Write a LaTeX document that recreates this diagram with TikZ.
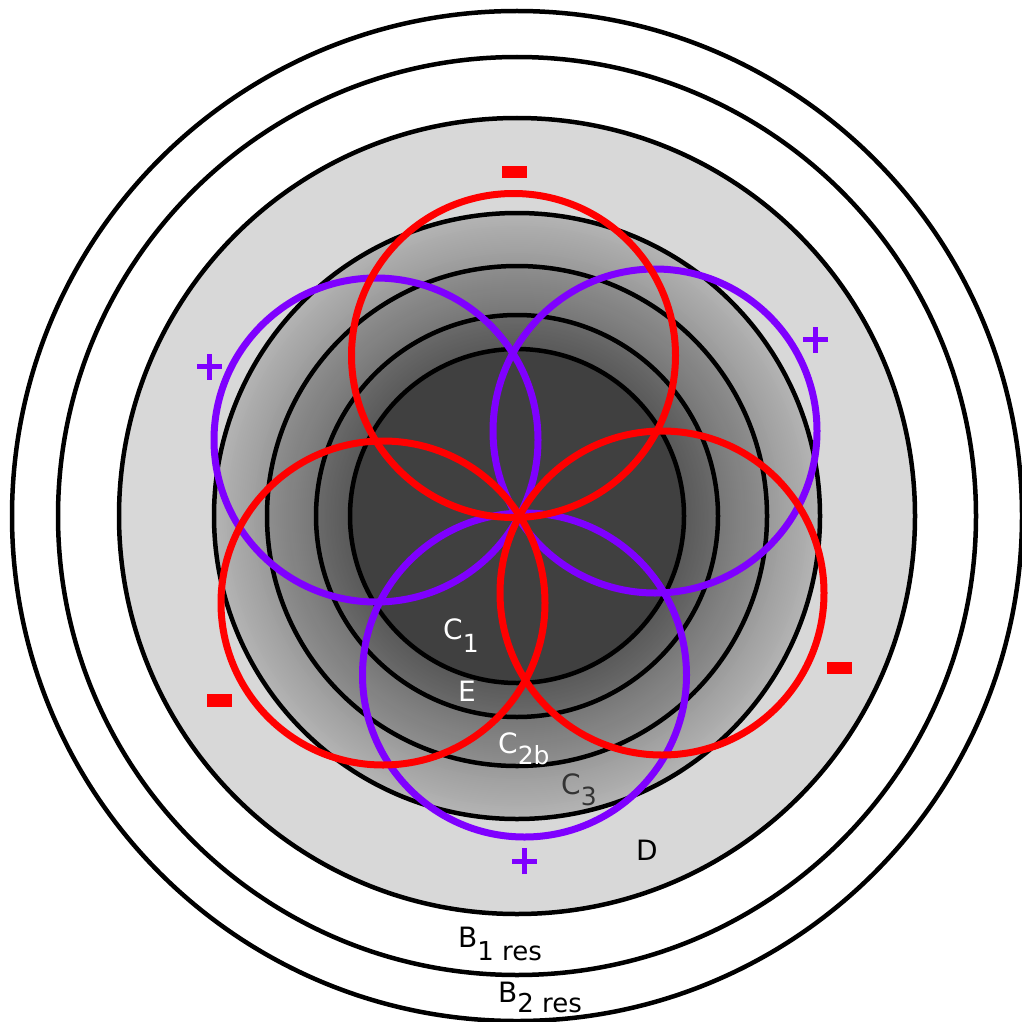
\documentclass[tikz,border=0pt]{standalone}
\usepackage{fontspec}
\setmainfont{DejaVu Sans}
\definecolor{myred}{HTML}{FF0000}
\definecolor{mypurple}{HTML}{7F00FF}
\definecolor{cD}{HTML}{D8D8D8}
\definecolor{cCi}{HTML}{404040}
\definecolor{cEin}{HTML}{595959}
\definecolor{cEout}{HTML}{6A6A6A}
\definecolor{cBin}{HTML}{767676}
\definecolor{cBout}{HTML}{8E8E8E}
\definecolor{cTin}{HTML}{999999}
\definecolor{cTout}{HTML}{B4B4B4}
\begin{document}
\begin{tikzpicture}[x=1pt,y=-1pt,
  ring/.style={draw=black,line width=4.5pt},
  redc/.style={draw=myred,line width=7pt},
  purc/.style={draw=mypurple,line width=7pt},
  lbl/.style={inner sep=0pt,anchor=base west,font=\fontsize{28}{28}\selectfont},
  minusbar/.style={fill=myred},
  plusbar/.style={draw=mypurple,line width=5pt}]
\useasboundingbox[fill=white] (0,0) rectangle (1021,1022);
\coordinate (O) at (517,516);
% zone fills
\fill[white] (O) circle[radius=505];
\fill[cD] (O) circle[radius=398];
\foreach \i in {0,...,24}{
  \pgfmathsetmacro{\rr}{303-\i*53/25}
  \pgfmathsetmacro{\pp}{4*\i}
  \fill[cTin!\pp!cTout] (O) circle[radius=\rr];
}
\foreach \i in {0,...,24}{
  \pgfmathsetmacro{\rr}{250-\i*49/25}
  \pgfmathsetmacro{\pp}{4*\i}
  \fill[cBin!\pp!cBout] (O) circle[radius=\rr];
}
\foreach \i in {0,...,24}{
  \pgfmathsetmacro{\rr}{201-\i*34/25}
  \pgfmathsetmacro{\pp}{4*\i}
  \fill[cEin!\pp!cEout] (O) circle[radius=\rr];
}
\fill[cCi] (O) circle[radius=167];
% zone borders
\foreach \r in {505,459,398,303,250,201,167}{
  \draw[ring] (O) circle[radius=\r];
}
% lobe centres
\coordinate (rT) at (513.5,355.5);
\coordinate (pUR) at (655,431);
\coordinate (rLR) at (662,593);
\coordinate (pB) at (524.5,675);
\coordinate (rLL) at (383,603);
\coordinate (pUL) at (376,440);
% purple lobes
\draw[purc] (pUR) circle[radius=162];
\draw[purc] (pB) circle[radius=162];
\draw[purc] (pUL) circle[radius=162];
% red lobes
\draw[redc] (rT) circle[radius=162];
\draw[redc] (rLR) circle[radius=162];
\draw[redc] (rLL) circle[radius=162];
% signs
\fill[minusbar] (502,166) rectangle (527,178);
\fill[minusbar] (827,662) rectangle (852,674);
\fill[minusbar] (207,694) rectangle (232,707);
\coordinate (p1) at (209.5,366.5);
\coordinate (p2) at (815.5,339.5);
\coordinate (p3) at (524.5,861);
\foreach \p in {p1,p2,p3}{
  \draw[plusbar] ([xshift=-12.5pt]\p) -- ([xshift=12.5pt]\p);
  \draw[plusbar] ([yshift=-13pt]\p) -- ([yshift=13pt]\p);
}
% labels
\node[lbl,text=white] (lC1) at (443,639) {C\raisebox{-13pt}{\fontsize{25}{25}\selectfont 1}};
\node[lbl,text=white] (lE) at (458,701) {E};
\node[lbl,text=white] (lC2) at (498,753) {C\raisebox{-11pt}{\fontsize{25}{25}\selectfont 2b}};
\node[lbl,text=black!80] (lC3) at (561,794) {C\raisebox{-11pt}{\fontsize{25}{25}\selectfont 3}};
\node[lbl,text=black] (lD) at (636,860) {D};
\node[lbl,text=black] (lB1) at (458,947) {B\raisebox{-13pt}{\fontsize{26}{26}\selectfont 1 res}};
\node[lbl,text=black] (lB2) at (498,1002) {B\raisebox{-10pt}{\fontsize{26}{26}\selectfont 2 res}};
\end{tikzpicture}
\end{document}
